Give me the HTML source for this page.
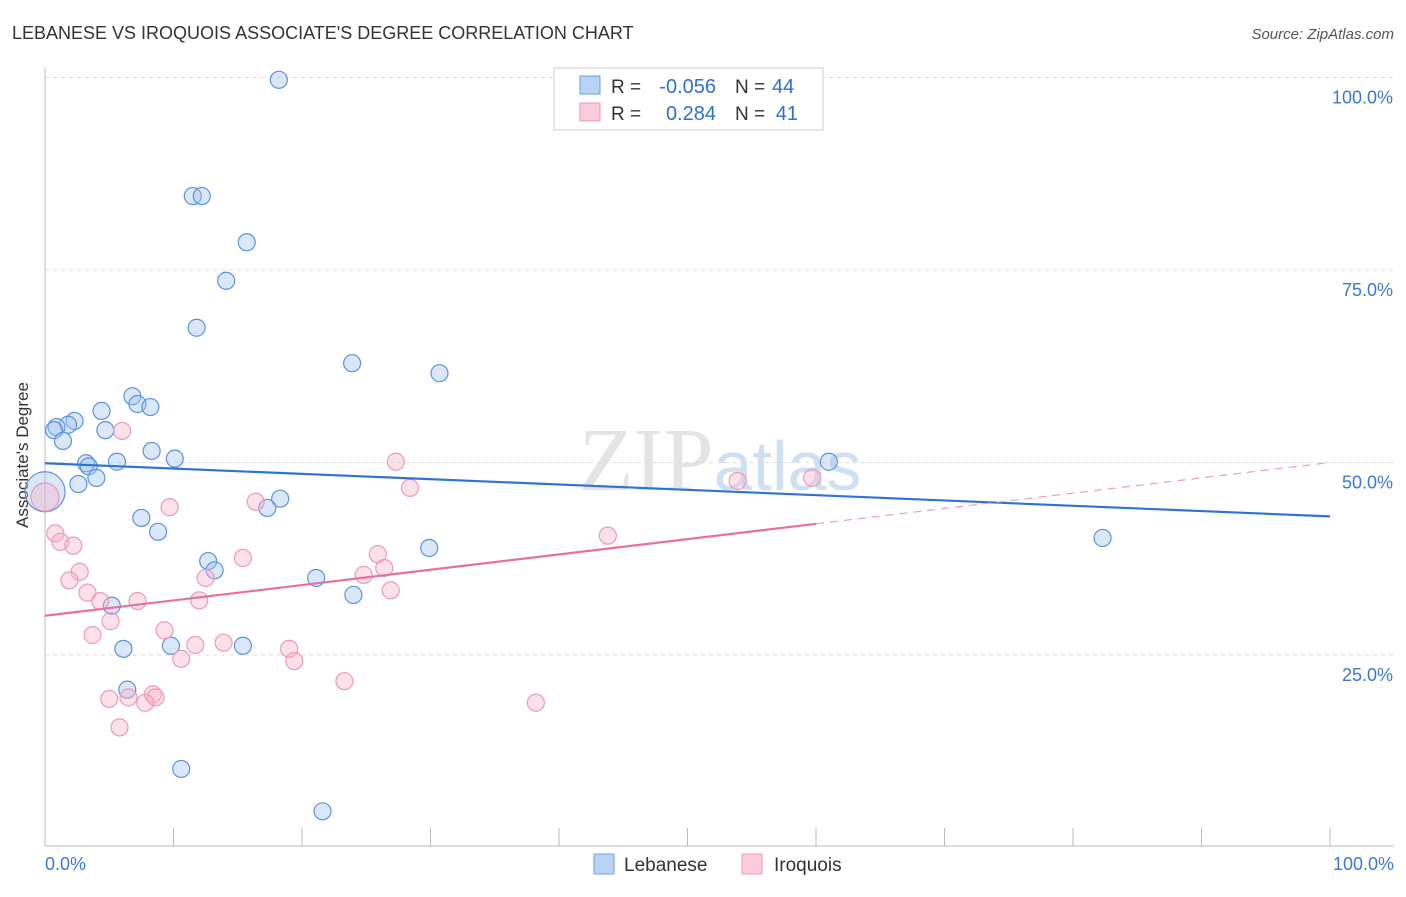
<!DOCTYPE html>
<html><head><meta charset="utf-8"><style>
body{margin:0;background:#fff;font-family:"Liberation Sans",sans-serif}
</style></head><body>
<svg width="1406" height="892" xmlns="http://www.w3.org/2000/svg">
<text x="12" y="39" font-size="18" fill="#333">LEBANESE VS IROQUOIS ASSOCIATE'S DEGREE CORRELATION CHART</text>
<text x="1394" y="39" font-size="15" fill="#555" text-anchor="end" font-style="italic">Source: ZipAtlas.com</text>
<text x="720" y="490" font-size="90" fill="#e4e4e4" text-anchor="middle" font-family="Liberation Serif">ZIP<tspan fill="#cfe0f3" font-family="Liberation Sans" font-size="70">atlas</tspan></text>
<g id="grid"></g>
<line x1="45" y1="68" x2="45" y2="846" stroke="#bbb"/>
<line x1="45" y1="846" x2="1394" y2="846" stroke="#bbb"/>
<text x="28" y="455" font-size="17" fill="#333" text-anchor="middle" transform="rotate(-90 28 455)">Associate's Degree</text>
<text x="45" y="870" font-size="18" fill="#3a78d4">0.0%</text>
<text x="1394" y="870" font-size="18" fill="#3a78d4" text-anchor="end">100.0%</text>
<g id="pts"></g>
<g id="lines"></g>
<g>
<rect x="554" y="68" width="269" height="62" fill="#fff" stroke="#ccc"/>
<rect x="580" y="76" width="20" height="18" fill="#b8d3f3" stroke="#6a9fe0"/>
<rect x="580" y="103" width="20" height="18" fill="#fbcbd9" stroke="#eb98b2"/>
<text x="611" y="93" font-size="19" fill="#333">R =</text>
<text x="716" y="93" font-size="20" fill="#2f6fd0" text-anchor="end">-0.056</text>
<text x="735" y="93" font-size="19" fill="#333">N =</text>
<text x="772" y="93" font-size="20" fill="#2f6fd0">44</text>
<text x="611" y="120" font-size="19" fill="#333">R =</text>
<text x="716" y="120" font-size="20" fill="#2f6fd0" text-anchor="end">0.284</text>
<text x="735" y="120" font-size="19" fill="#333">N =</text>
<text x="798" y="120" font-size="20" fill="#2f6fd0" text-anchor="end">41</text>
</g>
<g>
<rect x="594" y="854" width="20" height="20" fill="#b8d3f3" stroke="#6a9fe0"/>
<text x="624" y="871" font-size="19" fill="#333">Lebanese</text>
<rect x="742" y="854" width="20" height="20" fill="#fbcbd9" stroke="#eb98b2"/>
<text x="774" y="871" font-size="19" fill="#333">Iroquois</text>
</g>
</svg>
<script>
const yTicks=[25,50,75,100];
const yTickLabels=["25.0%","50.0%","75.0%","100.0%"];
const lebX=[18.2,11.5,12.2,15.7,14.1,11.8,23.9,30.7,6.8,7.2,8.2,4.4,2.3,1.8,0.9,0.7,4.7,1.4,8.3,10.1,5.6,3.2,3.4,4.0,2.6,0,61.0,18.3,17.3,7.5,8.8,12.7,13.2,29.9,21.1,24.0,5.2,6.1,9.8,15.4,6.4,10.6,21.6,82.3];
const lebY=[99.7,84.6,84.6,78.6,73.6,67.5,62.9,61.6,58.6,57.6,57.2,56.7,55.4,54.9,54.6,54.2,54.2,52.8,51.5,50.5,50.1,49.9,49.5,48.0,47.2,46.2,50.1,45.3,44.1,42.8,41.0,37.2,36.0,38.9,35.0,32.8,31.4,25.8,26.2,26.2,20.5,10.2,4.7,40.2];
const iroX=[0,6.0,27.3,28.4,53.9,59.7,16.4,9.7,0.8,1.2,2.2,15.4,25.9,2.7,1.9,26.4,24.8,12.5,26.9,43.8,3.3,4.3,7.2,12.0,5.1,3.7,9.3,13.9,11.7,19.0,10.6,19.4,23.3,38.2,8.4,8.6,5.0,6.5,7.8,5.8];
const iroY=[45.5,54.1,50.1,46.7,47.6,48.0,44.9,44.2,40.8,39.7,39.2,37.6,38.1,35.8,34.7,36.3,35.4,35.0,33.4,40.5,33.1,32.0,32.0,32.1,29.4,27.6,28.2,26.6,26.3,25.8,24.5,24.2,21.6,18.8,19.9,19.5,19.3,19.5,18.8,15.6];
const lebTrend=[49.9,43.0];
const iroTrend=[30.1,50.0];
const iroSolidEnd=60;
const X=v=>45+v*12.85, Y=v=>847.5-v*7.7;
const NS="http://www.w3.org/2000/svg";
function mk(t,a,p){const e=document.createElementNS(NS,t);for(const k in a)e.setAttribute(k,a[k]);p.appendChild(e);return e;}
const grid=document.getElementById('grid');
yTicks.forEach((t,i)=>{
 const l=mk('line',{x1:45,x2:1394,y1:Y(t),y2:Y(t),stroke:'#ddd','stroke-dasharray':'4,4'},grid);
 
 
 const tx=mk('text',{x:1393,y:Y(t)+26,'font-size':18,fill:'#3a78d4','text-anchor':'end'},grid);
 tx.textContent=yTickLabels[i];
 
 
});
for(let i=0;i<=10;i++){
 const l=mk('line',{x1:X(i*10),x2:X(i*10),y1:828,y2:846,stroke:'#bbb'},grid);
 
 
}
const pts=document.getElementById('pts');
lebX.forEach((x,i)=>{
 const big=(x===0);
 const c=mk('circle',{cx:X(x),cy:Y(lebY[i]),r:big?20:8.5,fill:'rgba(160,196,240,0.4)',stroke:'#5b93df','stroke-width':1.2},pts);
 
 
});
iroX.forEach((x,i)=>{
 const big=(x===0);
 const c=mk('circle',{cx:X(x),cy:Y(iroY[i]),r:big?14:8.5,fill:'rgba(248,180,203,0.4)',stroke:'#ec9ab5','stroke-width':1.2},pts);
 
 
});
const lines=document.getElementById('lines');
const bl=mk('line',{x1:X(0),y1:Y(lebTrend[0]),x2:X(100),y2:Y(lebTrend[1]),stroke:'#2f72d6','stroke-width':2.2},lines);


const iy=x=>iroTrend[0]+(iroTrend[1]-iroTrend[0])*x/100;
const pl=mk('line',{x1:X(0),y1:Y(iy(0)),x2:X(iroSolidEnd),y2:Y(iy(iroSolidEnd)),stroke:'#e8709a','stroke-width':2.2},lines);


const pd=mk('line',{x1:X(iroSolidEnd),y1:Y(iy(iroSolidEnd)),x2:X(100),y2:Y(iy(100)),stroke:'#e8a0b8','stroke-width':1.2,'stroke-dasharray':'8,6'},lines);


</script>
</body></html>
